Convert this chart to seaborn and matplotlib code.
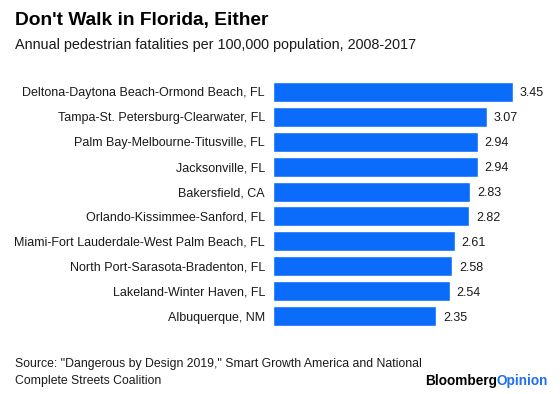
import matplotlib
matplotlib.use("Agg")
import matplotlib.pyplot as plt
import seaborn as sns
import pandas as pd

cities = [
    "Deltona-Daytona Beach-Ormond Beach, FL",
    "Tampa-St. Petersburg-Clearwater, FL",
    "Palm Bay-Melbourne-Titusville, FL",
    "Jacksonville, FL",
    "Bakersfield, CA",
    "Orlando-Kissimmee-Sanford, FL",
    "Miami-Fort Lauderdale-West Palm Beach, FL",
    "North Port-Sarasota-Bradenton, FL",
    "Lakeland-Winter Haven, FL",
    "Albuquerque, NM",
]
rates = [3.45, 3.07, 2.94, 2.94, 2.83, 2.82, 2.61, 2.58, 2.54, 2.35]
value_labels = ["3.45", "3.07", "2.94", "2.94", "2.83", "2.82", "2.61", "2.58", "2.54", "2.35"]

df = pd.DataFrame({"city": cities, "rate": rates})

sns.set_theme(style="white")
plt.rcParams["font.family"] = ["Liberation Sans", "DejaVu Sans"]

fig = plt.figure(figsize=(5.6, 3.94), dpi=100)
ax = fig.add_axes([273 / 560, 1 - 328.5 / 394, 272 / 560, 249 / 394])

blue = "#0b6cfb"
sns.barplot(data=df, x="rate", y="city", orient="h", color=blue, width=0.8,
            saturation=1, ax=ax)
ax.set_xlim(0, 3.91)
ax.set_ylim(9.5, -0.5)
ax.set_xlabel("")
ax.set_ylabel("")
ax.set_xticks([])
for s in ax.spines.values():
    s.set_visible(False)
ax.tick_params(axis="y", length=0, pad=5.8, labelsize=9, labelcolor="#1a1a1a")

for i, (v, lab) in enumerate(zip(rates, value_labels)):
    ax.text(v + 0.1, i, lab, va="center_baseline", ha="left", fontsize=9, color="#1a1a1a")

fig.text(15 / 560, 1 - 21 / 394, "Don't Walk in Florida, Either", fontsize=13.8,
         fontweight="bold", va="center", ha="left", color="black")
fig.text(15 / 560, 1 - 45 / 394, "Annual pedestrian fatalities per 100,000 population, 2008-2017",
         fontsize=10.35, va="center", ha="left", color="#1a1a1a")
fig.text(15 / 560, 1 - 364 / 394,
         "Source: \"Dangerous by Design 2019,\" Smart Growth America and National",
         fontsize=8.8, va="center", ha="left", color="#1a1a1a")
fig.text(15 / 560, 1 - 381 / 394, "Complete Streets Coalition",
         fontsize=8.8, va="center", ha="left", color="#1a1a1a")
t2 = fig.text(548 / 560, 1 - 381 / 394, "Opinion", fontsize=9.8, fontweight="bold",
              va="center", ha="right", color="#1f6ef5")
fig.canvas.draw()
bb = t2.get_window_extent()
fig.text(bb.x0 / 560, 1 - 381 / 394, "Bloomberg", fontsize=9.8, fontweight="bold",
         va="center", ha="right", color="black")

fig.savefig("out.png", dpi=100)
